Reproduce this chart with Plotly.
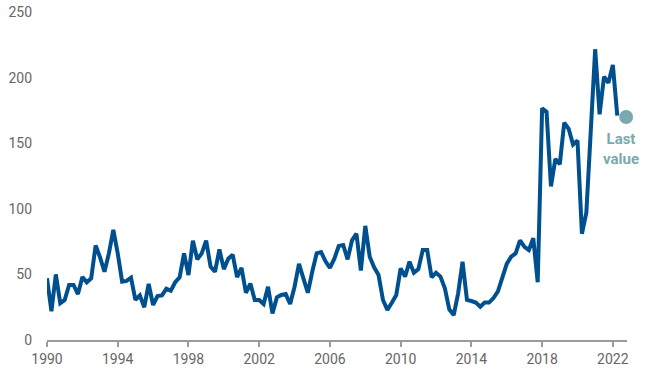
import plotly.graph_objects as go

start_year = 1990
values = [
    47, 22, 50, 28, 30.5, 42, 42, 35, 48, 44,
    47, 72, 63, 52, 66, 84, 66, 44.5, 45, 47.5,
    30.5, 34, 25, 42.7, 26.7, 33.5, 34, 39, 37.6, 44,
    47.8, 66, 49.5, 75.7, 61.5, 66, 75.7, 56, 52, 69,
    54, 62, 65, 48, 55, 36, 43, 30.5, 30.5, 27.4,
    40.6, 20.3, 32.5, 34.3, 35, 27.4, 40.6, 58, 47, 36,
    52, 66, 67, 60, 55, 62, 71.6, 72.4, 61.5, 76,
    81, 53, 87, 63.5, 55.4, 49.5, 30.5, 23, 28.4, 34.3,
    54.6, 48.3, 59.7, 51.3, 54, 68.6, 68.6, 47.8, 51.3, 48.3,
    39.4, 23.4, 19, 35.6, 59.7, 30.5, 29.7, 28.5, 25.4, 28.5,
    28.5, 32, 37, 48, 58, 63.5, 66, 76, 71, 68.6,
    77.5, 44, 176.6, 174, 117, 138, 134, 165.6, 161, 149,
    152, 81, 97, 159, 221.6, 172, 200.7, 196, 209.6, 171,
]
years = [start_year + i / 4 for i in range(len(values))]

last_x = [2022.75]
last_y = [170]
last_label = "Last<br>value"

x_ticks = [1990, 1994, 1998, 2002, 2006, 2010, 2014, 2018, 2022]
y_ticks = [0, 50, 100, 150, 200, 250]

line_color = "#00508f"
dot_color = "#7aaaad"
axis_gray = "#9b9b9b"
text_gray = "#666666"

fig = go.Figure()
fig.add_trace(go.Scatter(
    x=years, y=values, mode="lines",
    line=dict(color=line_color, width=4),
    hoverinfo="skip", showlegend=False,
))
fig.add_trace(go.Scatter(
    x=last_x, y=last_y, mode="markers",
    marker=dict(color=dot_color, size=14),
    cliponaxis=False, hoverinfo="skip", showlegend=False,
))
fig.add_annotation(
    x=last_x[0], y=last_y[0], text=last_label, showarrow=False,
    xanchor="center", yanchor="top", yshift=-11, xshift=-5,
    font=dict(family="Roboto, Arial, sans-serif", size=15, color=dot_color, weight="bold"),
    align="center",
)

fig.update_layout(
    width=650, height=371,
    margin=dict(l=47, r=23, t=12, b=31, autoexpand=False),
    paper_bgcolor="white", plot_bgcolor="white",
    font=dict(family="Roboto, Arial, sans-serif", size=14, color=text_gray),
    xaxis=dict(
        range=[1990, 2022.8], tickvals=x_ticks, ticktext=[str(t) for t in x_ticks],
        showgrid=False, zeroline=False, showline=True, automargin=False,
        linecolor=axis_gray, linewidth=2,
        ticks="outside", ticklen=5, tickwidth=2, tickcolor=axis_gray,
        tickfont=dict(size=14, color=text_gray),
    ),
    yaxis=dict(
        range=[0, 250], tickvals=y_ticks, ticktext=[str(t) for t in y_ticks],
        showgrid=False, zeroline=False, showline=False, ticks="", automargin=False,
        ticklabelstandoff=14,
        tickfont=dict(size=14, color=text_gray),
    ),
)

fig.write_html(
    "out.html",
    config={"displayModeBar": False, "staticPlot": True},
    post_script="document.body.style.margin='0';document.body.style.overflow='hidden';",
)
